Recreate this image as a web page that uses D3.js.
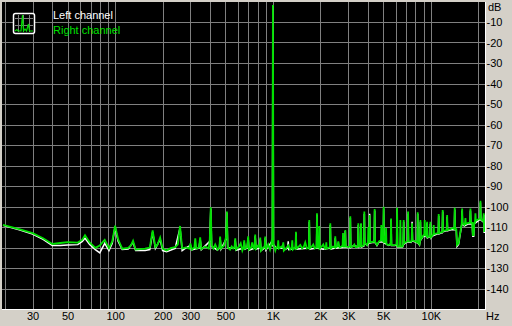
<!DOCTYPE html>
<html>
<head>
<meta charset="utf-8">
<script src="https://d3js.org/d3.v7.min.js"></script>
<style>
  body { margin: 0; background: #d4d0c8; }
  svg { display: block; }
  text { font-family: "Liberation Sans", Arial, sans-serif; font-size: 11px; }
</style>
</head>
<body>
<svg width="512" height="326" id="chart"></svg>
<script>
// spectrum, right channel (green) : [Hz, dB]
var rightChannel = [[19.5,-109],[25,-111.2],[30,-113],[35,-115.5],[40,-118.3],[45,-117.8],[50,-117.4],[58,-117.6],[62,-116.2],[64.5,-114],[69,-117.5],[75,-120.2],[80,-119],[86,-116.3],[91.5,-120.4],[96,-117],[100,-109.4],[104.5,-116],[111,-120.6],[121,-120.2],[126,-119],[130,-116.7],[135,-121],[145,-120.8],[155,-120.6],[166,-120],[173,-111.7],[180,-119.8],[186,-118.5],[193,-115.2],[200,-120.5],[212,-121.5],[225,-120.3],[240,-119.8],[250,-118.5],[258,-109.5],[266,-120.5],
  [280,-120],[295,-120.5],[300,-118],[306,-121],[318,-120],[322,-115.5],[327,-120.5],[340,-120],[346,-115],[352,-120.8],[372,-119.5],[392,-120.5],[398,-116],[404,-100.4],[409,-119],[420,-120.5],[431,-118.5],[445,-121],[458,-120],[463,-114.7],[469,-120.5],[490,-119],[504,-115],[511,-102.5],[517,-120],[535,-121],[548,-119.5],[560,-120.5],[571,-120],[577,-115.5],[584,-121],[610,-119.5],[625,-118],[640,-121.5],[651,-120],[658,-116.5],[665,-120.5],[686,-120],[697,-114.5],[705,-121],[728,-120],[739,-117.5],[755,-120.5],[765,-120],[772,-113.7],[780,-120.5],[805,-119],[823,-120],[831,-115.2],[840,-121.5],[868,-120],[885,-120],[894,-114.7],[903,-121],[934,-118.5],[958,-121],[972,-119],[985,-116],[992,-119],[1000,-1.7],[1008,-118],[1035,-121.5],[1050,-120],[1072,-120],[1080,-116.5],[1090,-120.5],[1135,-119.5],[1155,-120],[1163,-117.5],[1172,-121.5],[1225,-120],[1250,-119],[1285,-121],[1315,-120],[1326,-116.5],[1337,-121],[1380,-120],[1391,-120],[1399,-112.3],[1408,-120.5],[1460,-119.5],[1490,-118.8],[1530,-120.5],[1570,-119.5],[1602,-117.5],[1640,-120.5],[1688,-120],[1699,-106.6],[1710,-120.5],[1765,-119.5],[1801,-118.5],[1840,-120.5],[1889,-120],[1901,-103.3],[1913,-120],[1954,-120],[1966,-109.5],[1978,-120.5],[2040,-119.5],[2084,-118.5],[2130,-120.5],[2165,-120],[2178,-117.5],[2191,-120.5],[2275,-120],[2295,-120],[2309,-108.2],[2323,-120.5],[2400,-119.5],[2468,-120],[2483,-114.5],[2498,-120],[2560,-119.5],[2595,-117],[2640,-120],[2720,-119.5],[2763,-119],[2780,-113],[2797,-119.5],[2857,-119.5],[2874,-111.5],[2891,-119.5],[3000,-119.8],
  [3073,-119.5],[3092,-104.8],[3111,-119.8],[3210,-119.5],[3278,-118.5],[3340,-119.8],[3454,-119.5],[3475,-108.2],[3496,-119.5],[3593,-119],[3615,-108.2],[3637,-119.5],[3770,-119],[3793,-102.5],[3816,-117.5],[3950,-118.8],[3998,-118],[4022,-110],[4046,-117],[4074,-117.5],[4099,-104.1],[4124,-117.5],[4300,-117.2],[4383,-117.2],[4410,-101.2],[4437,-117.2],[4560,-118.8],[4700,-117],[4833,-116.5],[4862,-109],[4891,-116.5],[4999,-117],[5029,-100.1],[5059,-117.5],[5177,-117.5],[5208,-110.5],[5239,-118.5],[5420,-118.8],[5568,-118],[5602,-105.8],[5636,-118.8],[5900,-118.8],[6078,-118.5],[6115,-100.6],[6152,-119.5],[6320,-119.5],[6378,-119.5],[6417,-106.6],[6456,-119.5],[6620,-119.5],[6694,-118.5],[6734,-106.6],[6774,-118],[7070,-117],[7136,-117],[7179,-102.5],[7222,-117],[7490,-117.2],[7566,-116.5],[7612,-108.2],[7658,-116.5],[8000,-117],[8210,-117.5],[8260,-102.8],[8310,-117.5],[8480,-118.5],[8542,-117],[8594,-106.6],[8646,-116],[9000,-114],[9095,-114],[9150,-106.6],[9205,-114],[9419,-114.5],[9476,-107.4],[9533,-115],[9800,-114.5],[9883,-114.5],[9943,-107.5],[10003,-115],[10300,-114],[10370,-113.5],[10433,-109],[10496,-113.5],[11050,-113],[11155,-113],[11222,-103.7],[11289,-113],[11700,-112.5],[11827,-112.5],[11898,-101.7],[11969,-112],[12500,-111.5],[12616,-111.5],[12692,-104.1],[12768,-111.5],[13400,-111],[13700,-110.5],[14095,-111],[14180,-100.6],[14265,-111],[14500,-111],[14650,-118.8],[15000,-118],[15200,-115],[15700,-108.5],[15795,-101],[15890,-108],[16300,-109],[16475,-108],[16575,-105.6],[16675,-108.5],[17300,-108],[17723,-108],[17830,-101],[17937,-108],[18300,-108],[18450,-114],[18700,-114],[18850,-108],[19062,-108],[19177,-103.3],[19292,-107],[20300,-106],[20506,-106],[20630,-97.2],[20754,-106],[21300,-107],[21520,-107],[21650,-103.3],[21780,-112],[22050,-112]];

// spectrum, left channel (white)
var leftChannel = [[19.5,-109.2],[25,-111.5],[30,-113.4],[35,-116],[40,-119],[45,-119],[50,-118.8],[58,-118.6],[62,-117],[64.5,-115.5],[69,-118.5],[75,-121],[80,-122.6],[86,-118],[91.5,-121.5],[96,-118],[100,-110],[104.5,-117],[111,-121],[121,-120.8],[130,-117.5],[135,-121.5],[155,-121.5],[166,-121],[173,-112.5],[180,-120.5],[193,-116],[200,-121.5],[212,-122],[240,-120.5],[258,-110.5],[266,-121.5],
  [280,-120.3],[300,-119],[306,-121.2],[340,-120.3],[346,-116],[352,-121],[398,-117],[404,-101],[409,-119.5],[445,-121.2],[458,-120.3],[463,-115.5],[469,-120.8],[504,-116],[511,-103],[517,-120.3],[571,-120.3],[577,-116.5],[584,-121.3],[651,-120.3],[658,-117.5],[665,-120.8],[686,-120.3],[697,-115.5],[705,-121.3],[765,-120.3],[772,-114.5],[780,-120.8],[823,-120.3],[831,-116],[840,-121.5],[885,-120.3],[894,-115.5],[903,-121.2],[985,-117],[992,-119.5],[1000,-1.9],[1008,-118.5],[1050,-120.3],[1155,-120.3],[1163,-118.5],[1172,-121.3],[1240,-120.3],[1250,-117],[1260,-121],[1391,-120.3],[1399,-113],[1408,-120.8],[1688,-120.3],[1699,-107.5],[1710,-120.8],[1889,-120.3],[1901,-104],[1913,-120.3],[2084,-120.8],[2295,-120.3],[2309,-109],[2323,-120.8],[2468,-120.3],[2483,-115.5],[2498,-120.3],[2857,-119.8],[2874,-112],[2891,-119.8],
  [3000,-120],[3073,-120],[3092,-105.5],[3111,-120],[3278,-119],[3454,-119.8],[3475,-109],[3496,-119.8],[3593,-119.3],[3615,-108.5],[3637,-119.8],[3770,-119.3],[3793,-103.5],[3816,-117.8],[3950,-119],[4074,-117.8],[4099,-103.5],[4124,-117.8],[4300,-117.5],[4383,-117.5],[4410,-102],[4437,-117.5],[4560,-119],[4700,-117.3],[4999,-117.3],[5029,-101],[5059,-117.8],[5420,-119],[5568,-118.3],[5602,-106.5],[5636,-119],[5900,-119],[6078,-118.8],[6115,-101.5],[6152,-119.8],[6620,-119.8],[6694,-118.8],[6734,-107.5],[6774,-118.3],[7070,-117.3],[7136,-117.3],[7179,-103.5],[7222,-117.3],[7490,-117.5],[7566,-116.8],[7612,-107.5],[7658,-116.8],[8000,-117.3],[8210,-117.8],[8260,-103.5],[8310,-117.8],[8480,-118.8],[8542,-117.3],[8594,-107.5],[8646,-116.3],[9000,-114.3],[9419,-114.8],[9476,-108],[9533,-115.3],[9800,-114.8],[9883,-114.8],[9943,-108.5],[10003,-115.3],[10300,-114.3],[11050,-113.3],[11155,-113.3],[11222,-104.5],[11289,-113.3],[11700,-112.8],[11827,-112.8],[11898,-102.5],[11969,-112.3],[12500,-111.8],[12616,-111.8],[12692,-105],[12768,-111.8],[13400,-111.3],[14095,-111.3],[14180,-101.5],[14265,-111.3],[14500,-111.3],[14650,-119.5],[15000,-118.5],[15200,-115.5],[15700,-109],[15795,-102],[15890,-108.5],[16300,-109.5],[17300,-108.5],[17723,-108.5],[17830,-102],[17937,-108.5],[18300,-108.5],[18450,-114.5],[18700,-114.5],[18850,-108.5],[20300,-106.5],[20506,-106.5],[20630,-98],[20754,-106.5],[21520,-107.5],[21650,-104],[21780,-112.5],[22050,-112.5]];

// axes
var freqGrid = [20,30,40,50,60,70,80,90,100,200,300,400,500,600,700,800,900,1000,2000,3000,4000,5000,6000,7000,8000,9000,10000,20000];
var freqLabels = [30,50,100,200,300,500,1000,2000,3000,5000,10000];
var dbTicks = [-10,-20,-30,-40,-50,-60,-70,-80,-90,-100,-110,-120,-130,-140];
var seriesNames = ["Left channel", "Right channel"];
var seriesColors = ["#ffffff", "#00e000"];

var svg = d3.select("#chart");
var plotL = 2, plotR = 485, plotT = 2, plotB = 309;

var x = d3.scaleLog().domain([19.5, 22050]).range([3, plotR]);
var y = d3.scaleLinear().domain([0, -150]).range([1.5, plotB]);

// plot background
svg.append("rect")
  .attr("x", plotL).attr("y", plotT)
  .attr("width", plotR - plotL).attr("height", plotB - plotT)
  .attr("fill", "black");

svg.append("clipPath").attr("id", "clip")
  .append("rect")
  .attr("x", plotL).attr("y", plotT)
  .attr("width", plotR - plotL).attr("height", plotB - plotT);

// grid (axes with long ticks)
var vgrid = svg.append("g")
  .attr("transform", "translate(0," + plotB + ")")
  .call(d3.axisBottom(x).tickValues(freqGrid).tickSize(-(plotB - plotT)).tickFormat(""));
vgrid.select(".domain").remove();
vgrid.selectAll(".tick").attr("transform", function(d) { return "translate(" + (Math.round(x(d)) + 0.5) + ",0)"; });
vgrid.selectAll("line").attr("stroke", "#808080");

var hgrid = svg.append("g")
  .attr("transform", "translate(" + plotL + ",0)")
  .call(d3.axisRight(y).tickValues(dbTicks).tickSize(plotR - plotL).tickFormat(""));
hgrid.select(".domain").remove();
hgrid.selectAll(".tick").attr("transform", function(d) { return "translate(0," + (Math.round(y(d)) + 0.5) + ")"; });
hgrid.selectAll("line").attr("stroke", "#808080");

// traces
var line = d3.line()
  .x(function(d) { return x(d[0]); })
  .y(function(d) { return y(d[1]); });

var traces = svg.append("g").attr("clip-path", "url(#clip)");
traces.append("path")
  .datum(leftChannel)
  .attr("d", line)
  .attr("fill", "none")
  .attr("stroke", seriesColors[0])
  .attr("stroke-width", 1.5);
traces.append("path")
  .datum(rightChannel)
  .attr("d", line)
  .attr("fill", "none")
  .attr("stroke", seriesColors[1])
  .attr("stroke-width", 1.8);

// frame edges
svg.append("line").attr("x1", plotR + 0.5).attr("x2", plotR + 0.5)
  .attr("y1", plotT).attr("y2", plotB + 1).attr("stroke", "white");
svg.append("line").attr("x1", plotL).attr("x2", plotR + 1)
  .attr("y1", plotB + 0.5).attr("y2", plotB + 0.5).attr("stroke", "white");

// right dB axis
var yAxis = svg.append("g")
  .attr("transform", "translate(" + plotR + ",0)")
  .call(d3.axisRight(y).tickValues(dbTicks).tickSize(0).tickPadding(1.5)
    .tickFormat(function(d) { return String(d); }));
yAxis.select(".domain").remove();
yAxis.selectAll("text").attr("fill", "black").style("font-size", "11px")
  .style("font-family", "'Liberation Sans', Arial, sans-serif");

svg.append("text").attr("x", 488).attr("y", 11).text("dB");

// bottom Hz axis
var fmt = function(d) { return d >= 1000 ? (d / 1000) + "K" : String(d); };
var xAxis = svg.append("g")
  .attr("transform", "translate(0," + plotB + ")")
  .call(d3.axisBottom(x).tickValues(freqLabels).tickSize(0).tickPadding(3).tickFormat(fmt));
xAxis.select(".domain").remove();
xAxis.selectAll("text").attr("fill", "black").style("font-size", "11px")
  .style("font-family", "'Liberation Sans', Arial, sans-serif");

svg.append("text").attr("x", 486).attr("y", 320).text("Hz");

// legend
var icon = svg.append("g");
icon.append("rect").attr("x", 13.5).attr("y", 13.5).attr("width", 21).attr("height", 20)
  .attr("rx", 2).attr("fill", "black").attr("stroke", "white").attr("stroke-width", 1.5);
[18.5, 23.5, 29.5].forEach(function(v) {
  icon.append("line").attr("x1", v).attr("x2", v).attr("y1", 15).attr("y2", 32).attr("stroke", "#808080");
});
[18.5, 25.5].forEach(function(v) {
  icon.append("line").attr("x1", 15).attr("x2", 33).attr("y1", v).attr("y2", v).attr("stroke", "#808080");
});
icon.append("path")
  .attr("d", "M15,31 L17,29.5 L18,31 L21,31 L22.5,15 L23.5,31 L25,29 L26.5,31 L28.5,24 L29.5,31 L33,31")
  .attr("fill", "none").attr("stroke", seriesColors[1]).attr("stroke-width", 1.2);

svg.selectAll(".legtext")
  .data(seriesNames)
  .enter().append("text")
  .attr("class", "legtext")
  .attr("x", 53)
  .attr("y", function(d, i) { return 18.5 + i * 15; })
  .attr("fill", function(d, i) { return seriesColors[i]; })
  .text(function(d) { return d; });
</script>
</body>
</html>
